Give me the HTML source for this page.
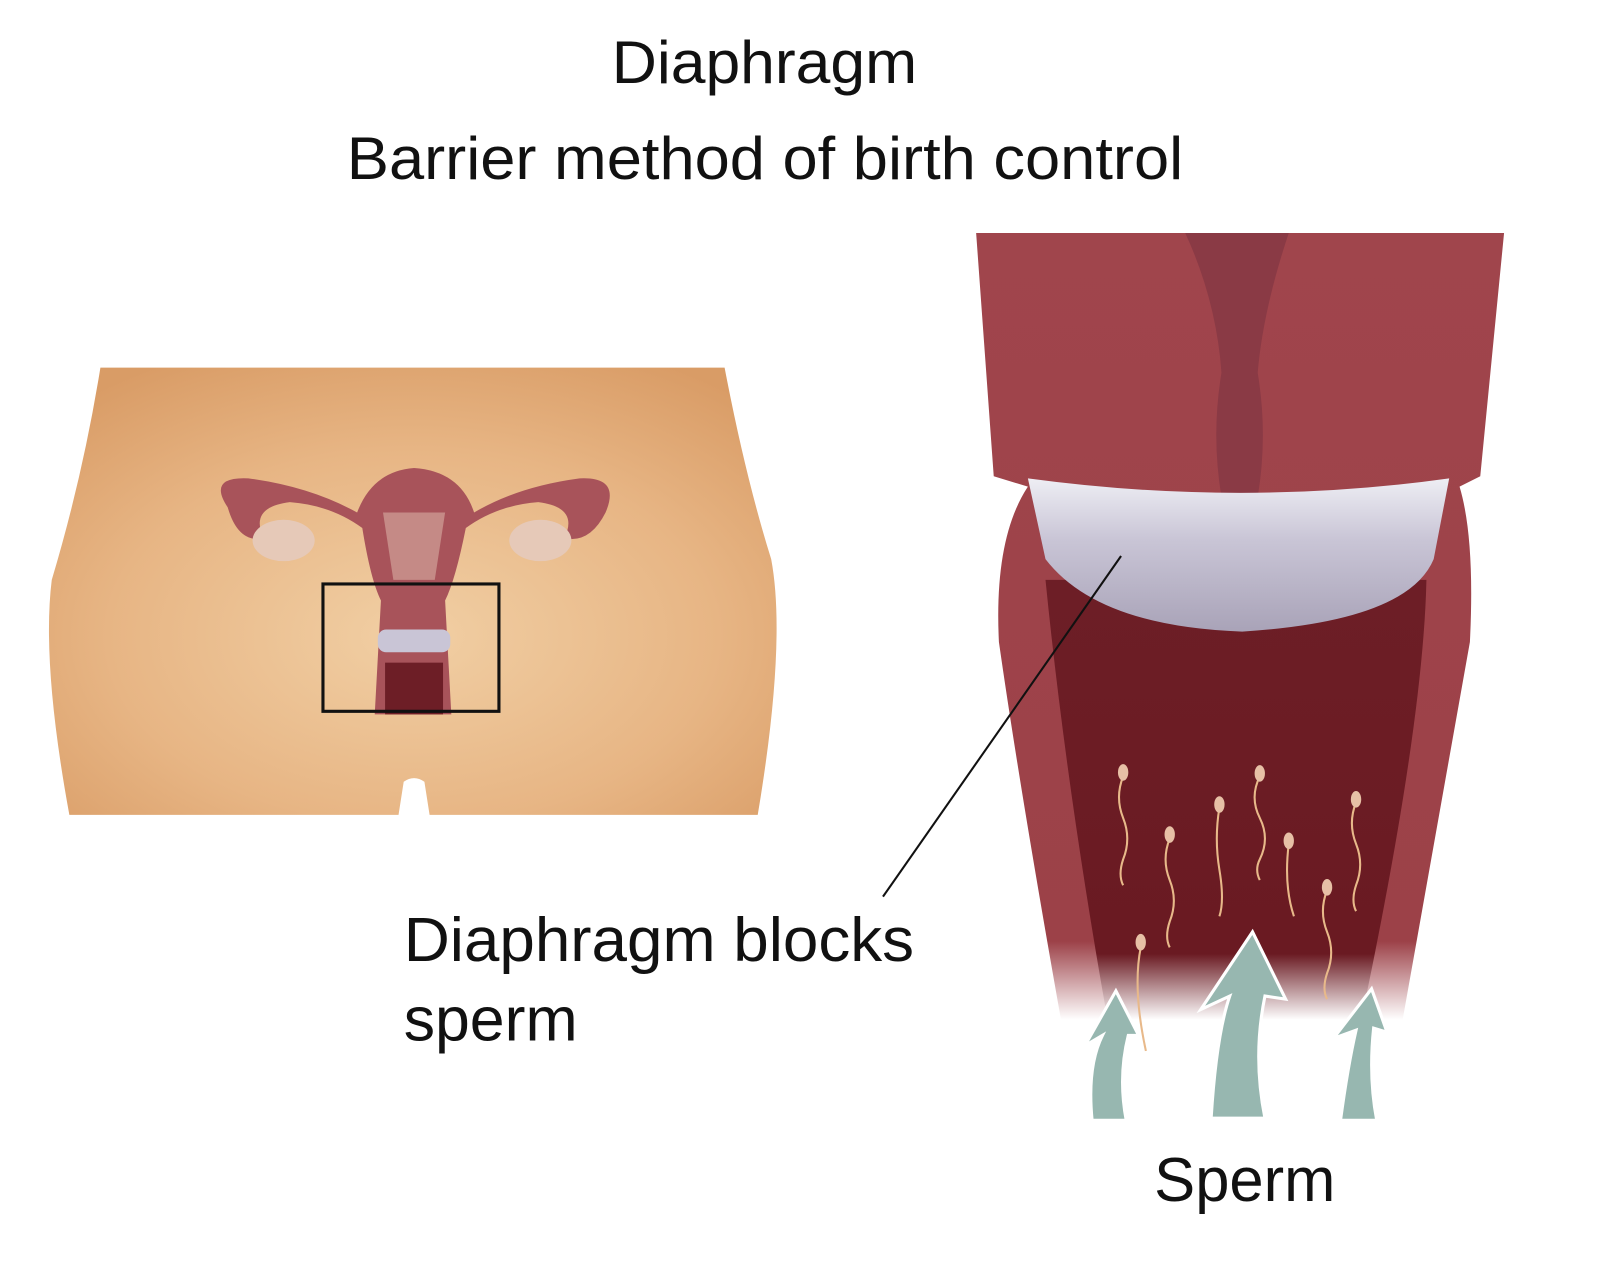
<!DOCTYPE html>
<html><head><meta charset="utf-8"><style>
html,body{margin:0;padding:0;background:#fff;}
svg{display:block;}
text{font-family:"Liberation Sans",sans-serif;fill:#111;}
</style></head><body>
<svg width="1620" height="1287" viewBox="0 0 1565 1243" preserveAspectRatio="none" xmlns="http://www.w3.org/2000/svg">
<defs>
<radialGradient id="skin" cx="0.5" cy="0.6" r="0.7">
<stop offset="0" stop-color="#f1cfa4"/><stop offset="0.6" stop-color="#e7b584"/><stop offset="1" stop-color="#d99c66"/>
</radialGradient>
<linearGradient id="band" x1="0" y1="0" x2="0" y2="1">
<stop offset="0" stop-color="#eeeef4"/><stop offset="0.4" stop-color="#c9c5d6"/><stop offset="1" stop-color="#a9a3b8"/>
</linearGradient>
<linearGradient id="inner" x1="0" y1="0" x2="0" y2="1">
<stop offset="0" stop-color="#6d1e26"/><stop offset="0.85" stop-color="#6a1a22"/><stop offset="1" stop-color="#ffffff"/>
</linearGradient>
<linearGradient id="outer" x1="0" y1="0" x2="0" y2="1">
<stop offset="0" stop-color="#a0454c"/><stop offset="0.9" stop-color="#9c4148"/><stop offset="1" stop-color="#ffffff"/>
</linearGradient>
</defs>
<text x="591" y="80" font-size="58" textLength="295" lengthAdjust="spacingAndGlyphs">Diaphragm</text>
<text x="335" y="173" font-size="58" textLength="808" lengthAdjust="spacingAndGlyphs">Barrier method of birth control</text>

<path d="M97 355 L700 355 Q720 460 745 540 Q760 620 732 787 L415 787 L410 755 Q400 748 390 755 L385 787 L67 787 Q40 640 50 560 Q80 460 97 355 Z" fill="url(#skin)"/>
<path d="M220 490 Q200 460 240 462 Q300 470 345 495 Q360 455 400 452 Q445 455 458 495 Q500 470 560 462 Q600 460 585 495 Q570 525 545 520 Q560 490 520 485 Q480 488 450 510 Q440 560 430 580 L436 690 L362 690 L368 580 Q358 560 350 510 Q320 488 280 485 Q240 490 255 520 Q230 525 220 490 Z" fill="#a8535a"/>
<ellipse cx="274" cy="522" rx="30" ry="20" fill="#e6c9b8"/>
<ellipse cx="522" cy="522" rx="30" ry="20" fill="#e6c9b8"/>
<path d="M370 495 L430 495 L420 560 L380 560 Z" fill="#c58a86"/>
<rect x="365" y="608" width="70" height="22" rx="8" fill="#c9c5d6"/>
<rect x="372" y="640" width="56" height="50" fill="#6d1e26"/>
<rect x="312" y="564" width="170" height="123" fill="none" stroke="#111" stroke-width="3"/>

<path d="M943 225 L1453 225 L1430 460 L1410 470 Q1425 520 1420 620 L1355 985 L1025 985 Q985 760 965 620 Q960 520 993 470 L960 460 Z" fill="url(#outer)"/>
<path d="M1145 225 L1245 225 Q1220 300 1215 360 Q1225 420 1215 480 L1180 480 Q1170 420 1180 360 Q1175 290 1145 225 Z" fill="#8a3a45"/>
<path d="M1010 560 L1378 560 Q1375 700 1315 985 L1070 985 Q1030 760 1010 560 Z" fill="url(#inner)"/>
<path d="M993 462 Q1200 490 1400 462 L1385 540 Q1360 600 1200 610 Q1060 605 1010 540 Z" fill="url(#band)"/>

<g stroke="#e8b98a" stroke-width="2" fill="none">
<path d="M1085 750 q-8 20 0 40 q8 20 0 40 q-5 15 0 25"/>
<path d="M1130 810 q-8 20 0 40 q8 20 0 40 q-5 15 0 25"/>
<path d="M1178 780 q-5 30 0 60 q5 30 0 45"/>
<path d="M1217 750 q-10 20 0 40 q10 20 0 40 q-5 10 0 20"/>
<path d="M1245 815 q-5 40 5 70"/>
<path d="M1282 860 q-8 20 0 40 q8 20 0 40 q-5 15 0 25"/>
<path d="M1310 775 q-8 20 0 40 q8 20 0 40 q-5 15 0 25"/>
<path d="M1102 915 q-8 40 5 100"/>
</g>
<g fill="#e7c0a6">
<ellipse cx="1085" cy="746" rx="5" ry="8"/><ellipse cx="1130" cy="806" rx="5" ry="8"/>
<ellipse cx="1178" cy="777" rx="5" ry="8"/><ellipse cx="1217" cy="747" rx="5" ry="8"/>
<ellipse cx="1245" cy="812" rx="5" ry="8"/><ellipse cx="1282" cy="857" rx="5" ry="8"/>
<ellipse cx="1310" cy="772" rx="5" ry="8"/><ellipse cx="1102" cy="910" rx="5" ry="8"/>
</g>
<g fill="#97b7b0" stroke="#fff" stroke-width="3">
<path d="M1078 957 L1100 1000 L1090 1000 Q1080 1040 1088 1082 L1055 1082 Q1050 1030 1065 1000 L1048 1010 Z"/>
<path d="M1210 900 L1242 965 L1222 962 Q1210 1020 1222 1080 L1170 1080 Q1175 1000 1188 962 L1160 975 Z"/>
<path d="M1325 955 L1340 997 L1327 993 Q1322 1040 1330 1082 L1295 1082 Q1302 1030 1310 995 L1288 1003 Z"/>
</g>

<line x1="1083" y1="537" x2="853" y2="866" stroke="#111" stroke-width="2"/>
<text x="390" y="928" font-size="60" textLength="493" lengthAdjust="spacingAndGlyphs">Diaphragm blocks</text>
<text x="390" y="1005" font-size="60" textLength="168" lengthAdjust="spacingAndGlyphs">sperm</text>
<text x="1115" y="1160" font-size="60" textLength="175" lengthAdjust="spacingAndGlyphs">Sperm</text>
</svg>
</body></html>
